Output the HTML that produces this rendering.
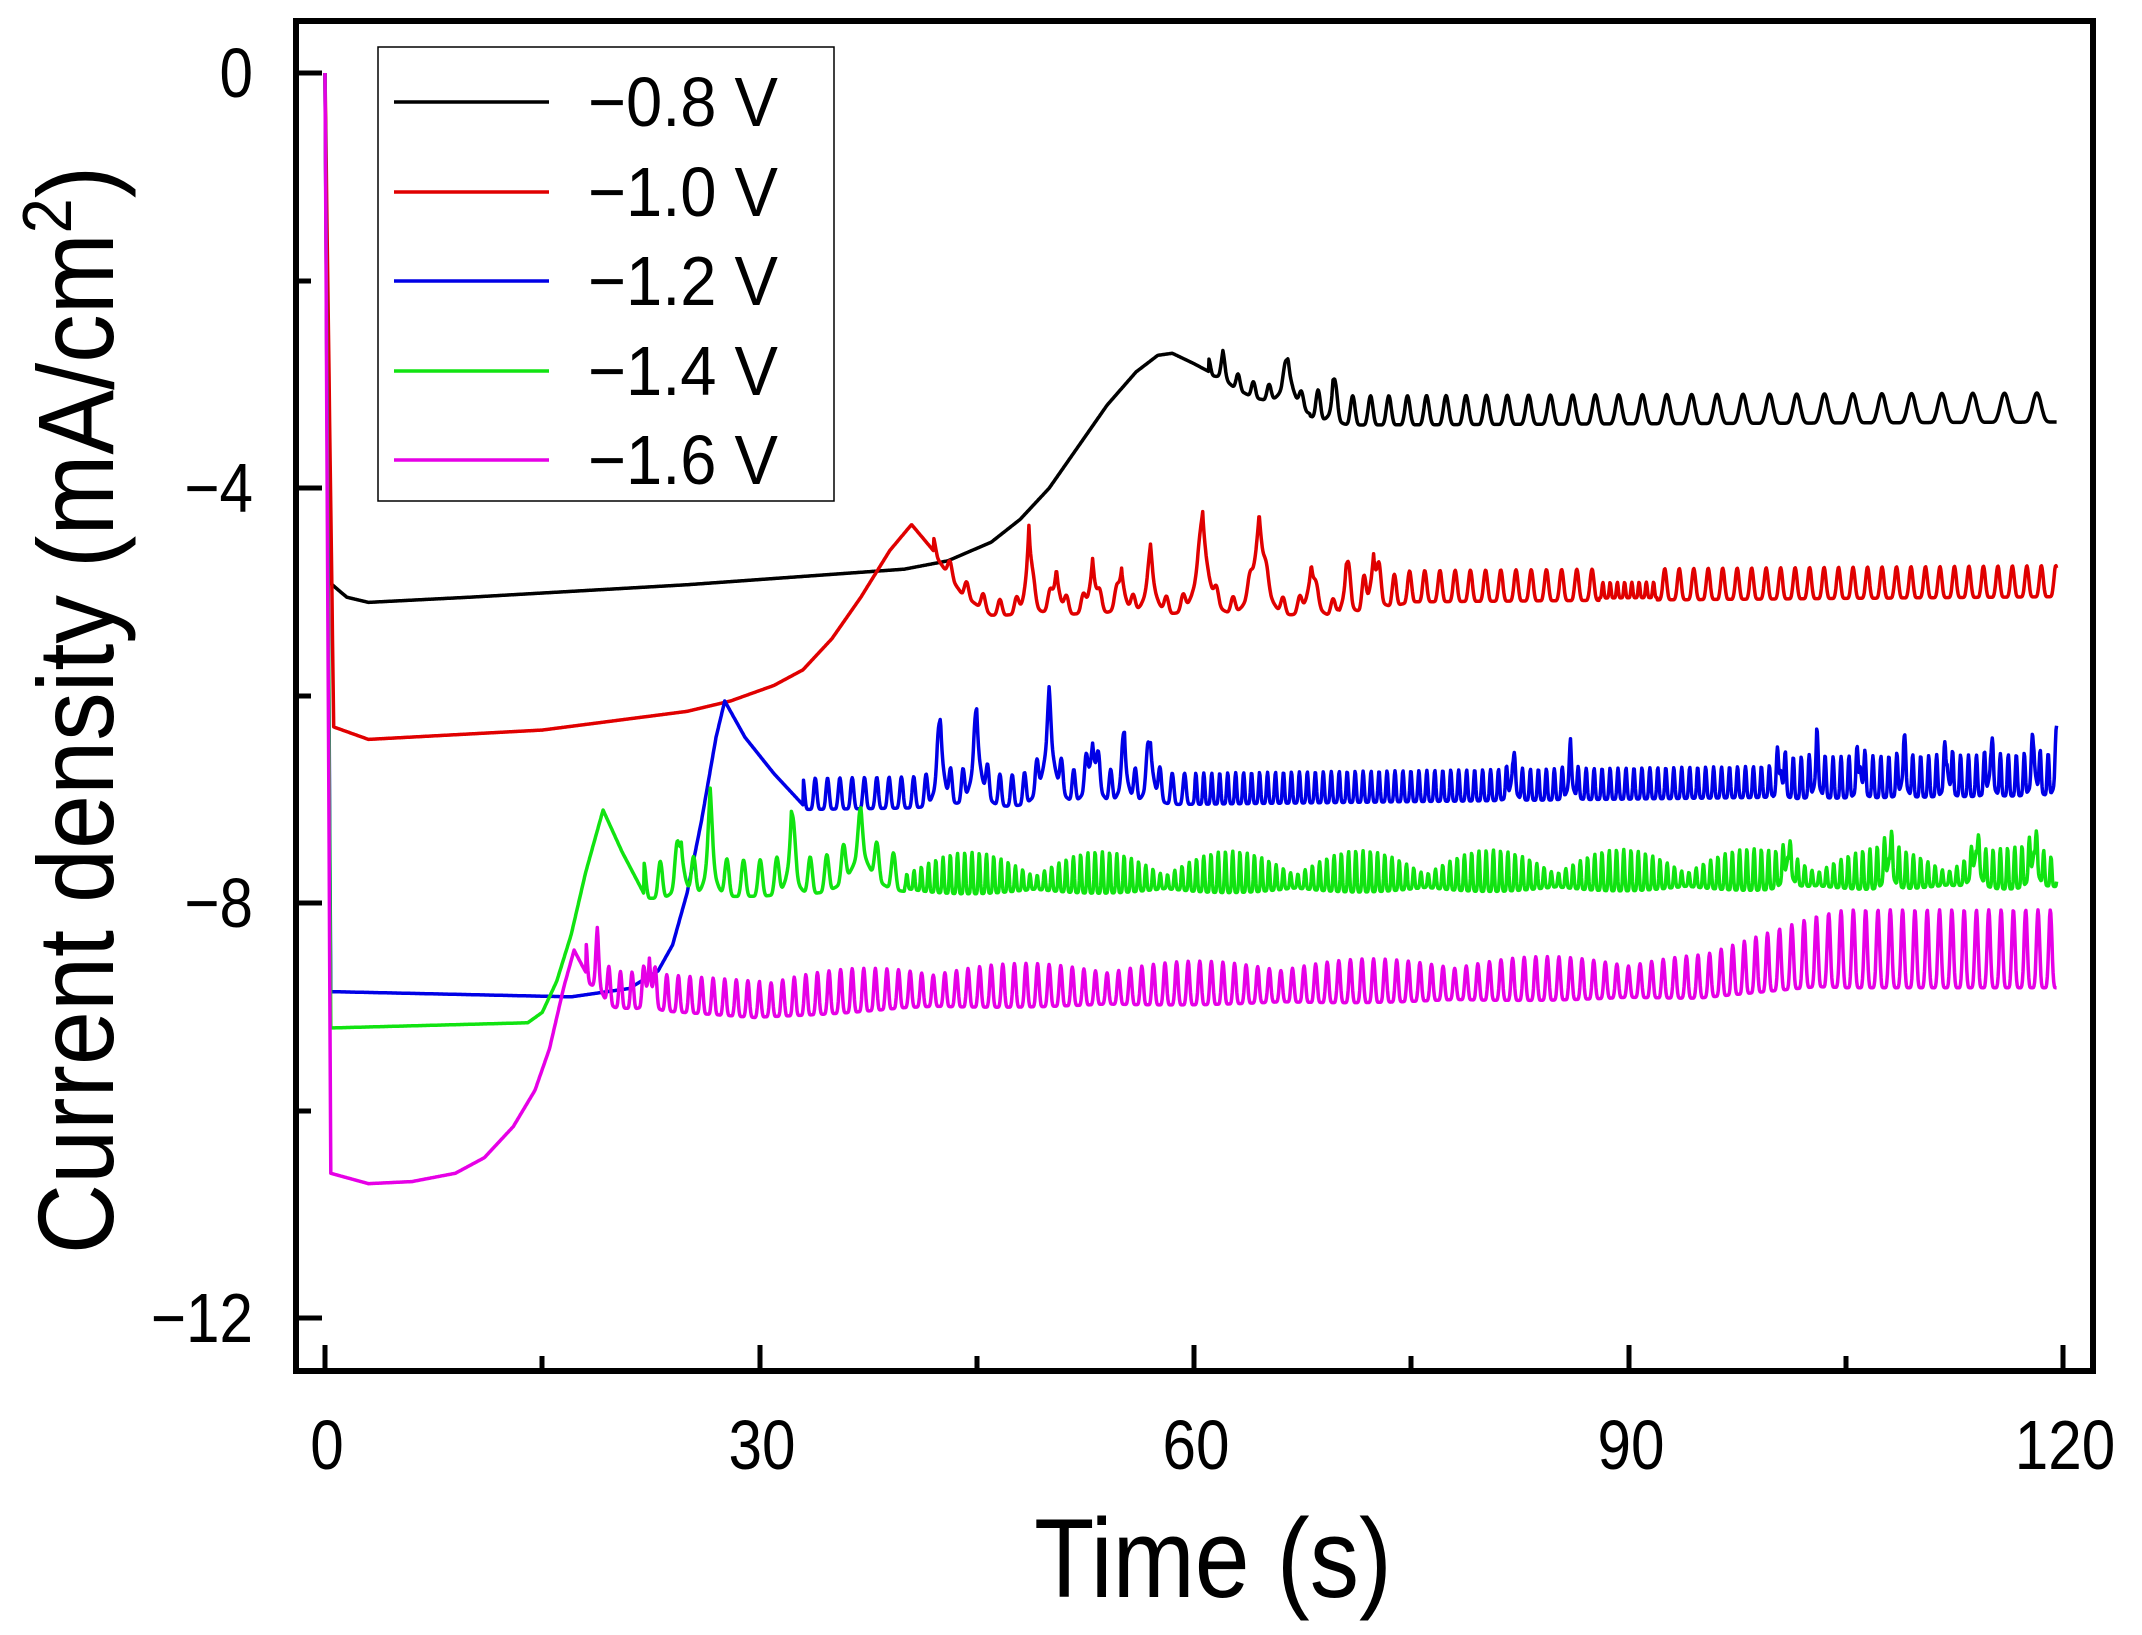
<!DOCTYPE html>
<html><head><meta charset="utf-8"><style>
html,body{margin:0;padding:0;background:#fff;}
svg{display:block;}
text{font-family:"Liberation Sans",Arial,sans-serif;fill:#000;}
</style></head><body>
<svg id="s" width="2142" height="1635" viewBox="0 0 2142 1635" xmlns="http://www.w3.org/2000/svg">
<g id="curves" fill="none" stroke-width="3.5" stroke-linejoin="round"></g>
<rect x="296" y="21" width="1797" height="1350" fill="none" stroke="#000" stroke-width="6"/>
<g stroke="#000" stroke-width="5">
<line x1="325" y1="1368" x2="325" y2="1345"/>
<line x1="542" y1="1368" x2="542" y2="1356"/>
<line x1="760" y1="1368" x2="760" y2="1345"/>
<line x1="977" y1="1368" x2="977" y2="1356"/>
<line x1="1194" y1="1368" x2="1194" y2="1345"/>
<line x1="1411" y1="1368" x2="1411" y2="1356"/>
<line x1="1629" y1="1368" x2="1629" y2="1345"/>
<line x1="1846" y1="1368" x2="1846" y2="1356"/>
<line x1="2063" y1="1368" x2="2063" y2="1345"/>
<line x1="299" y1="73" x2="322" y2="73"/>
<line x1="299" y1="281" x2="311" y2="281"/>
<line x1="299" y1="488" x2="322" y2="488"/>
<line x1="299" y1="696" x2="311" y2="696"/>
<line x1="299" y1="903" x2="322" y2="903"/>
<line x1="299" y1="1111" x2="311" y2="1111"/>
<line x1="299" y1="1318" x2="322" y2="1318"/>
</g>
<g font-size="70" text-anchor="end">
<text x="253" y="97" transform="translate(253 0) scale(0.86 1) translate(-253 0)">0</text>
<text x="253" y="512" transform="translate(253 0) scale(0.86 1) translate(-253 0)">−4</text>
<text x="253" y="927" transform="translate(253 0) scale(0.86 1) translate(-253 0)">−8</text>
<text x="253" y="1342" transform="translate(253 0) scale(0.86 1) translate(-253 0)">−12</text>
</g>
<g font-size="70" text-anchor="middle">
<text x="327" y="1469" transform="translate(327 0) scale(0.86 1) translate(-327 0)">0</text>
<text x="762" y="1469" transform="translate(762 0) scale(0.86 1) translate(-762 0)">30</text>
<text x="1196" y="1469" transform="translate(1196 0) scale(0.86 1) translate(-1196 0)">60</text>
<text x="1631" y="1469" transform="translate(1631 0) scale(0.86 1) translate(-1631 0)">90</text>
<text x="2065" y="1469" transform="translate(2065 0) scale(0.86 1) translate(-2065 0)">120</text>
</g>
<text x="1213" y="1597" font-size="112" text-anchor="middle" transform="translate(1213 0) scale(0.88 1) translate(-1213 0)">Time (s)</text>
<text x="0" y="0" font-size="108" text-anchor="middle" transform="translate(113 710) rotate(-90) scale(0.9 1)">Current density (mA/cm<tspan font-size="70" dy="-42">2</tspan><tspan dy="42">)</tspan></text>
<rect x="378" y="47" width="456" height="454" fill="#fff" stroke="#000" stroke-width="1.5"/>
<g stroke-width="3.5">
<line x1="394" y1="102" x2="549" y2="102" stroke="#000"/>
<line x1="394" y1="192" x2="549" y2="192" stroke="#e00000"/>
<line x1="394" y1="281" x2="549" y2="281" stroke="#0000e6"/>
<line x1="394" y1="371" x2="549" y2="371" stroke="#11e311"/>
<line x1="394" y1="460" x2="549" y2="460" stroke="#e600e6"/>
</g>
<g font-size="70">
<text x="588" y="126" transform="translate(588 0) scale(0.93 1) translate(-588 0)">−0.8 V</text>
<text x="588" y="216" transform="translate(588 0) scale(0.93 1) translate(-588 0)">−1.0 V</text>
<text x="588" y="305" transform="translate(588 0) scale(0.93 1) translate(-588 0)">−1.2 V</text>
<text x="588" y="395" transform="translate(588 0) scale(0.93 1) translate(-588 0)">−1.4 V</text>
<text x="588" y="484" transform="translate(588 0) scale(0.93 1) translate(-588 0)">−1.6 V</text>
</g>
</svg>
<script>
(function(){
var X=function(t){return 325+t*14.483;}, Y=function(v){return 73-v*103.8;};
function lerp(pts,t){for(var i=0;i<pts.length-1;i++){if(t<=pts[i+1][0]){var a=pts[i],b=pts[i+1];var f=(t-a[0])/(b[0]-a[0]);return a[1]+(b[1]-a[1])*f;}}return pts[pts.length-1][1];}
function spikes(list,t){var s=0;for(var i=0;i<list.length;i++){var d=Math.abs(t-list[i][0]);s+=list[i][1]*Math.exp(-d/(list[i][2]||0.35));}return s;}
function shape(p){var c=Math.cos(Math.PI*p);c=c*c;return c*c*c;}
var series=[
 {c:"#000",base:[[0,0],[0.25,-4.9],[1.5,-5.05],[3,-5.1],[10,-5.05],[25,-4.93],[40,-4.78],[43,-4.7],[46,-4.52],[48,-4.3],[50,-4.0],[52,-3.6],[54,-3.2],[56,-2.88],[57.5,-2.72],[58.5,-2.7],[60,-2.8],[62,-2.95],[64,-3.1],[67,-3.25],[70,-3.35],[120,-3.32]],
  os:61,per:function(t){return 1.0+(t-61)/59*1.3;},amp:function(t){return t<68?0.15:0.28;},
  sp:[[62,0.15,0.2],[66.5,0.45,0.5],[69.6,0.25,0.25]]},
 {c:"#e00000",base:[[0,0],[0.6,-6.3],[3,-6.42],[15,-6.33],[25,-6.15],[28,-6.05],[31,-5.9],[33,-5.75],[35,-5.45],[37,-5.05],[39,-4.6],[40.5,-4.35],[42,-4.6],[44,-5.0],[46,-5.2],[70,-5.22],[75,-5.05],[120,-5.0]],
  os:42,per:function(t){return t<70?1.15:(t<88?1.05:(t<92?0.5:1.0));},amp:function(t){return t<70?0.15:(t>=88&&t<92?0.15:0.3);},
  sp:[[48.6,0.85,0.25],[50.5,0.45,0.3],[53,0.55,0.3],[55,0.45,0.3],[57,0.55,0.4],[60.6,0.95,0.5],[64.5,1.0,0.5],[68.1,0.5,0.35],[70.5,0.4,0.3],[72.4,0.55,0.3]]},
 {c:"#0000e6",base:[[0,0],[0.4,-8.85],[17,-8.9],[21,-8.82],[23,-8.65],[24,-8.4],[25,-7.9],[26,-7.2],[27,-6.4],[27.6,-6.05],[29,-6.4],[31,-6.75],[33,-7.05],[60,-7.0],[120,-6.9]],
  os:33,per:function(t){return t<60?0.85:0.55;},amp:function(t){return t<60?0.3:(t<100?0.3:0.4);},
  sp:[[42.5,0.75,0.3],[45,0.75,0.4],[50,0.85,0.5],[53,0.6,0.4],[55.2,0.5,0.3],[57,0.55,0.3],[82,0.3,0.2],[86,0.3,0.2],[100.5,0.3,0.2],[103,0.3,0.2],[106,0.3,0.2],[109,0.3,0.2],[112,0.3,0.2],[115,0.3,0.2],[118,0.35,0.2],[119.6,0.4,0.15]]},
 {c:"#11e311",base:[[0,0],[0.4,-9.2],[14,-9.15],[15,-9.05],[16,-8.75],[17,-8.3],[18,-7.7],[19.2,-7.1],[20.5,-7.5],[22,-7.9],[40,-7.85],[120,-7.8]],
  os:22,per:function(t){return t<40?1.15:0.5;},amp:function(t){if(t<40)return 0.35;return 0.12+0.28*Math.abs(Math.sin((t-40)/9*Math.PI));},
  sp:[[24.6,0.5,0.3],[26.6,0.7,0.3],[32.2,0.6,0.3],[37,0.5,0.9],[101,0.3,0.3],[108,0.3,0.3],[114,0.35,0.3],[118,0.35,0.3]]},
 {c:"#e600e6",base:[[0,0],[0.4,-10.6],[3,-10.7],[6,-10.68],[9,-10.6],[11,-10.45],[13,-10.15],[14.5,-9.8],[15.5,-9.4],[16.5,-8.8],[17.2,-8.45],[18.5,-8.8],[20,-8.95],[30,-9.05],[40,-8.95],[95,-8.85],[103,-8.7],[120,-8.7]],
  os:18,per:function(t){return t<100?0.8:0.85;},amp:function(t){if(t<30)return 0.35;if(t<95)return 0.3+0.12*Math.abs(Math.sin((t-30)/12*Math.PI));if(t<105)return 0.4+(t-95)/10*0.35;return 0.75;},
  sp:[[18.8,0.3,0.2],[22.4,0.5,0.2]]}
];
var g=document.getElementById("curves"),html="";
series.forEach(function(s){
 var d="",ph=0,dt=0.04;
 for(var t=0;t<=119.6;t+=dt){
  var v=lerp(s.base,t);
  if(t>=s.os){ph+=dt/s.per(t);var p=ph-Math.floor(ph);v+=s.amp(t)*(shape(p)-0.15);}
  v+=spikes(s.sp,t);
  d+=(d?"L":"M")+X(t).toFixed(1)+" "+Y(v).toFixed(1);
 }
 html+='<path d="'+d+'" stroke="'+s.c+'"/>';
});
g.innerHTML=html;
})();
</script>
</body></html>
